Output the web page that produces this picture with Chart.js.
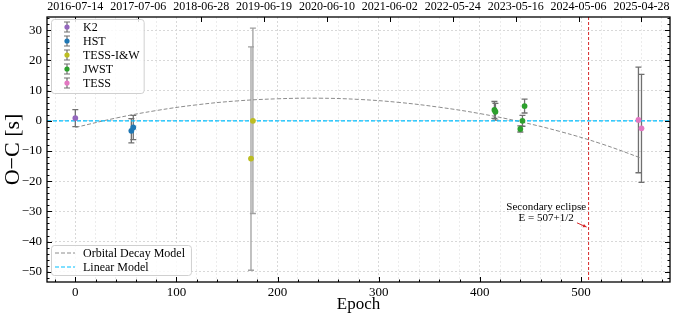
<!DOCTYPE html>
<html>
<head>
<title>O-C diagram</title>
<script src="https://cdn.jsdelivr.net/npm/chart.js"></script>
<style>
  body { margin: 0; background: #fff; }
</style>
</head>
<body>
<canvas id="oc" width="674" height="316"></canvas>
<script>
// timing residuals per instrument: epoch, O-C [s], 1-sigma error [s]
const k2Epoch = [0];
const k2OC = [0.9];
const k2Err = [2.8];

const hstEpoch = [55.4, 57.3];
const hstOC = [-3.3, -2.2];
const hstErr = [4.0, 4.0];

const tessIWEpoch = [173.7, 175.6];
const tessIWOC = [-12.5, 0.0];
const tessIWErr = [37.0, 30.7];

const jwstEpoch = [414.4, 415.4, 440.0, 442.1, 444.2];
const jwstOC = [3.6, 3.0, -2.7, 0.0, 4.9];
const jwstErr = [2.8, 2.8, 1.0, 1.8, 2.3];

const tessEpoch = [556.8, 559.8];
const tessOC = [0.3, -2.5];
const tessErr = [17.5, 17.9];

// models
const decayEpoch = [0, 40, 80, 120, 160, 200, 240, 280, 320, 360, 400, 440, 480, 520, 560];
const decayOC = [-2.2, 0.9, 3.4, 5.3, 6.6, 7.3, 7.5, 7.1, 6.1, 4.5, 2.4, -0.3, -3.6, -7.6, -12.4];
const linearEpoch = [-28, 588];
const linearOC = [0, 0];

// secondary eclipse marker
const eclipseEpoch = 507.5;
const noteLines = ['Secondary eclipse', 'E = 507+1/2'];
const noteAt = [465.6, -30.3];
const arrowFrom = [496, -33.8];
const arrowTo = [505.5, -35.2];

// top axis: calendar dates
const topTickEpoch = [0, 62.2, 124.4, 186.6, 248.8, 311.0, 373.2, 435.4, 497.6, 559.8];
const topTickLabels = ['2016-07-14', '2017-07-06', '2018-06-28', '2019-06-19', '2020-06-10',
  '2021-06-02', '2022-05-24', '2023-05-16', '2024-05-06', '2025-04-28'];

const xRange = [-28, 588];
const yRange = [-53.4, 34.4];

const serif = "'Liberation Serif', 'DejaVu Serif', serif";
Chart.defaults.font.family = serif;
Chart.defaults.color = '#000';

const pts = (xs, ys) => xs.map((x, i) => ({ x: x, y: ys[i] }));
const minus = v => (v < 0 ? '\u2212' + Math.abs(v) : String(v));

function obs(label, xs, ys, errs, color, errColor) {
  return {
    label: label, data: pts(xs, ys), errs: errs, errColor: errColor,
    backgroundColor: color, borderColor: color, pointRadius: 2.9, pointBorderWidth: 0,
    showLine: false, order: 1
  };
}

const datasets = [
  obs('K2', k2Epoch, k2OC, k2Err, '#9467bd', '#707070'),
  obs('HST', hstEpoch, hstOC, hstErr, '#1f77b4', '#707070'),
  obs('TESS-I&W', tessIWEpoch, tessIWOC, tessIWErr, '#bcbd22', '#a0a0a0'),
  obs('JWST', jwstEpoch, jwstOC, jwstErr, '#2ca02c', '#707070'),
  obs('TESS', tessEpoch, tessOC, tessErr, '#e377c2', '#707070'),
  {
    label: 'Orbital Decay Model', data: pts(decayEpoch, decayOC), showLine: true,
    borderColor: '#8c8c8c', borderWidth: 1, borderDash: [4, 2], pointRadius: 0,
    tension: 0.4, order: 5
  },
  {
    label: 'Linear Model', data: pts(linearEpoch, linearOC), showLine: true,
    borderColor: '#00bfff', borderWidth: 1.2, borderDash: [4, 2], pointRadius: 0, order: 4
  }
];

// error bars with caps, under the markers
const errorBars = {
  id: 'errorBars',
  beforeDatasetsDraw(chart) {
    const { ctx, scales: { x, y } } = chart;
    ctx.save();
    ctx.lineWidth = 1.3;
    chart.data.datasets.forEach(ds => {
      if (!ds.errs) return;
      ctx.strokeStyle = ds.errColor;
      ds.data.forEach((p, i) => {
        const cx = x.getPixelForValue(p.x);
        const t = y.getPixelForValue(p.y + ds.errs[i]);
        const b = y.getPixelForValue(p.y - ds.errs[i]);
        ctx.beginPath();
        ctx.moveTo(cx, t); ctx.lineTo(cx, b);
        ctx.moveTo(cx - 3, t); ctx.lineTo(cx + 3, t);
        ctx.moveTo(cx - 3, b); ctx.lineTo(cx + 3, b);
        ctx.stroke();
      });
    });
    // eclipse line
    const ex = x.getPixelForValue(eclipseEpoch);
    ctx.strokeStyle = '#d62728';
    ctx.lineWidth = 1;
    ctx.setLineDash([3, 2]);
    ctx.beginPath();
    ctx.moveTo(ex, chart.chartArea.top); ctx.lineTo(ex, chart.chartArea.bottom);
    ctx.stroke();
    ctx.restore();
  }
};

// frame, inward ticks, annotation and the two legends
const decorations = {
  id: 'decorations',
  afterDatasetsDraw(chart) {
    const { ctx, chartArea: a, scales: { x, y, x2 } } = chart;
    ctx.save();
    ctx.strokeStyle = '#000';
    ctx.lineWidth = 1;
    ctx.beginPath();
    x.ticks.forEach(t => {
      const p = Math.round(x.getPixelForValue(t.value)) + 0.5;
      const len = t.value % 100 === 0 ? 5 : 2.5;
      ctx.moveTo(p, a.bottom); ctx.lineTo(p, a.bottom - len);
    });
    y.ticks.forEach(t => {
      const p = Math.round(y.getPixelForValue(t.value)) + 0.5;
      const len = t.value % 10 === 0 ? 5 : 2.5;
      ctx.moveTo(a.left, p); ctx.lineTo(a.left + len, p);
      ctx.moveTo(a.right, p); ctx.lineTo(a.right - len, p);
    });
    x2.ticks.forEach(t => {
      const p = Math.round(x2.getPixelForValue(t.value)) + 0.5;
      ctx.moveTo(p, a.top); ctx.lineTo(p, a.top + 5);
    });
    ctx.stroke();
    ctx.lineWidth = 1.3;
    ctx.strokeRect(a.left, a.top, a.right - a.left, a.bottom - a.top);

    // annotation
    ctx.fillStyle = '#000';
    ctx.font = '11px ' + serif;
    ctx.textAlign = 'center';
    ctx.textBaseline = 'middle';
    const nx = x.getPixelForValue(noteAt[0]);
    const ny = y.getPixelForValue(noteAt[1]);
    ctx.fillText(noteLines[0], nx, ny - 5.5);
    ctx.fillText(noteLines[1], nx, ny + 5.5);
    const ax0 = x.getPixelForValue(arrowFrom[0]), ay0 = y.getPixelForValue(arrowFrom[1]);
    const ax1 = x.getPixelForValue(arrowTo[0]), ay1 = y.getPixelForValue(arrowTo[1]);
    ctx.strokeStyle = '#d62728';
    ctx.fillStyle = '#d62728';
    ctx.lineWidth = 1;
    ctx.beginPath(); ctx.moveTo(ax0, ay0); ctx.lineTo(ax1, ay1); ctx.stroke();
    const ang = Math.atan2(ay1 - ay0, ax1 - ax0);
    ctx.beginPath();
    ctx.moveTo(ax1, ay1);
    ctx.lineTo(ax1 - 4 * Math.cos(ang - 0.45), ay1 - 4 * Math.sin(ang - 0.45));
    ctx.lineTo(ax1 - 4 * Math.cos(ang + 0.45), ay1 - 4 * Math.sin(ang + 0.45));
    ctx.closePath(); ctx.fill();

    // legends
    ctx.font = '12px ' + serif;
    ctx.textAlign = 'left';
    const box = (l, t, w, h) => {
      ctx.fillStyle = 'rgba(255,255,255,0.85)';
      ctx.strokeStyle = '#d0d0d0';
      ctx.lineWidth = 1;
      ctx.beginPath();
      ctx.roundRect(l + 0.5, t + 0.5, w, h, 3);
      ctx.fill(); ctx.stroke();
    };
    const obsSets = chart.data.datasets.filter(d => d.errs);
    const w1 = Math.max(...obsSets.map(d => ctx.measureText(d.label).width)) + 36;
    const l1 = a.left + 4, t1 = a.top + 2;
    box(l1, t1, w1, 74);
    obsSets.forEach((d, i) => {
      const ry = t1 + 8 + i * 14;
      const hx = l1 + 16;
      ctx.strokeStyle = '#707070';
      ctx.lineWidth = 1.2;
      ctx.beginPath();
      ctx.moveTo(hx, ry - 5); ctx.lineTo(hx, ry + 5);
      ctx.moveTo(hx - 3, ry - 5); ctx.lineTo(hx + 3, ry - 5);
      ctx.moveTo(hx - 3, ry + 5); ctx.lineTo(hx + 3, ry + 5);
      ctx.stroke();
      ctx.fillStyle = d.backgroundColor;
      ctx.beginPath(); ctx.arc(hx, ry, 2.6, 0, Math.PI * 2); ctx.fill();
      ctx.fillStyle = '#000';
      ctx.fillText(d.label, l1 + 32, ry + 0.5);
    });

    const lineSets = chart.data.datasets.filter(d => !d.errs);
    const w2 = Math.max(...lineSets.map(d => ctx.measureText(d.label).width)) + 38;
    const l2 = a.left + 4, t2 = a.bottom - 37;
    box(l2, t2, w2, 30);
    lineSets.forEach((d, i) => {
      const ry = t2 + 8 + i * 14;
      ctx.strokeStyle = d.borderColor;
      ctx.lineWidth = d.borderWidth;
      ctx.setLineDash([4, 2]);
      ctx.beginPath(); ctx.moveTo(l2 + 4, ry); ctx.lineTo(l2 + 24, ry); ctx.stroke();
      ctx.setLineDash([]);
      ctx.fillStyle = '#000';
      ctx.fillText(d.label, l2 + 32, ry + 0.5);
    });
    ctx.restore();
  }
};

const xTicks = [];
for (let v = -20; v <= 580; v += 20) xTicks.push(v);
const yTicks = [];
for (let v = -52; v <= 34; v += 2) yTicks.push(v);

new Chart(document.getElementById('oc'), {
  type: 'scatter',
  data: { datasets: datasets },
  options: {
    responsive: false,
    animation: false,
    layout: { padding: { right: 3 } },
    plugins: { legend: { display: false }, tooltip: { enabled: false } },
    scales: {
      x: {
        type: 'linear', position: 'bottom', min: xRange[0], max: xRange[1],
        afterBuildTicks: s => { s.ticks = xTicks.map(v => ({ value: v })); },
        afterFit: s => { s.height = 34; },
        ticks: {
          autoSkip: false, maxRotation: 0, padding: 3, font: { size: 13 },
          callback: v => (v % 100 === 0 ? String(v) : '')
        },
        grid: {
          drawTicks: false,
          color: c => (c.tick && c.tick.value % 100 === 0 ? '#d8d8d8' : '#ececec')
        },
        border: { display: false, dash: [2, 2] },
        title: { display: true, text: 'Epoch', font: { size: 17 }, padding: { top: 0, bottom: 1 } }
      },
      x2: {
        type: 'linear', position: 'top', min: xRange[0], max: xRange[1],
        afterBuildTicks: s => { s.ticks = topTickEpoch.map(v => ({ value: v })); },
        afterFit: s => { s.height = 17; },
        ticks: {
          autoSkip: false, maxRotation: 0, padding: 3, font: { size: 12 },
          callback: (v, i) => topTickLabels[i]
        },
        grid: { display: false, drawTicks: false },
        border: { display: false }
      },
      y: {
        type: 'linear', min: yRange[0], max: yRange[1],
        afterBuildTicks: s => { s.ticks = yTicks.map(v => ({ value: v })); },
        afterFit: s => { s.width = 47; },
        ticks: {
          autoSkip: false, padding: 5, font: { size: 13 },
          callback: v => (v % 10 === 0 ? minus(v) : '')
        },
        grid: {
          drawTicks: false,
          color: c => (c.tick && c.tick.value % 10 === 0 ? '#d8d8d8' : 'rgba(0,0,0,0)')
        },
        border: { display: false, dash: [2, 2] },
        title: { display: true, text: 'O\u2212C [s]', font: { size: 22 }, padding: { top: 0, bottom: 0 } }
      }
    }
  },
  plugins: [errorBars, decorations]
});
</script>
</body>
</html>
